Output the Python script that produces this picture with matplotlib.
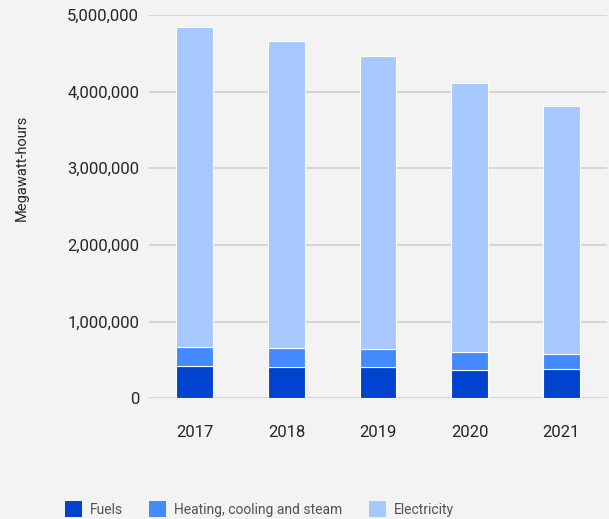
import matplotlib
matplotlib.use("Agg")
import matplotlib.pyplot as plt
from matplotlib.patches import Patch
from matplotlib.ticker import FuncFormatter
import numpy as np

years = ["2017", "2018", "2019", "2020", "2021"]
fuels = [425000, 412000, 404000, 373000, 386000]
heating = [248000, 244000, 239000, 231000, 196000]
electricity = [4170000, 4004000, 3822000, 3509000, 3231000]
series_names = ["Fuels", "Heating, cooling and steam", "Electricity"]
colors = ["#0043ce", "#4589ff", "#a6c8ff"]

plt.rcParams['font.family'] = ['Roboto', 'DejaVu Sans']
bg = "#f3f3f3"

fig = plt.figure(figsize=(6.09, 5.19), dpi=100, facecolor=bg)
ax = fig.add_axes([149/609, 1-398.3/519, 458/609, 383.3/519])
ax.set_facecolor(bg)

x = np.arange(len(years))
bottom = np.zeros(len(years))
for vals, col in zip([fuels, heating, electricity], colors):
    ax.bar(x, vals, width=0.4, bottom=bottom, color=col, edgecolor="white",
           linewidth=0.8, zorder=3)
    bottom += np.array(vals)

ax.set_xlim(-0.5, len(years) - 0.5)
ax.set_ylim(0, 5000000)
ax.set_yticks(np.arange(0, 5000001, 1000000))
ax.yaxis.set_major_formatter(FuncFormatter(lambda v, p: f"{int(v):,}"))
ax.set_xticks(x)
ax.set_xticklabels(years)
ax.grid(axis="y", color="#cfcfcf", linewidth=1.2, zorder=0)
ax.set_axisbelow(True)
for s in ax.spines.values():
    s.set_visible(False)
ax.tick_params(axis="y", length=0, pad=7, labelsize=12, labelcolor="#262626")
ax.tick_params(axis="x", length=0, pad=19, labelsize=12, labelcolor="#262626")

fig.text(22/609, 1-168/519, "Megawatt-hours", rotation=90, ha="center", va="center",
         fontsize=10.5, color="#262626")

handles = [Patch(facecolor=c, edgecolor="none", label=n) for c, n in zip(colors, series_names)]
fig.legend(handles=handles, loc="center left", bbox_to_anchor=(59/609, 1-509/519),
           ncol=3, frameon=False, fontsize=10, handlelength=1.25, handleheight=1.35,
           handletextpad=0.55, columnspacing=1.9, labelcolor="#525252",
           borderaxespad=0, borderpad=0.4)

fig.savefig("out.png", dpi=100, facecolor=bg)
